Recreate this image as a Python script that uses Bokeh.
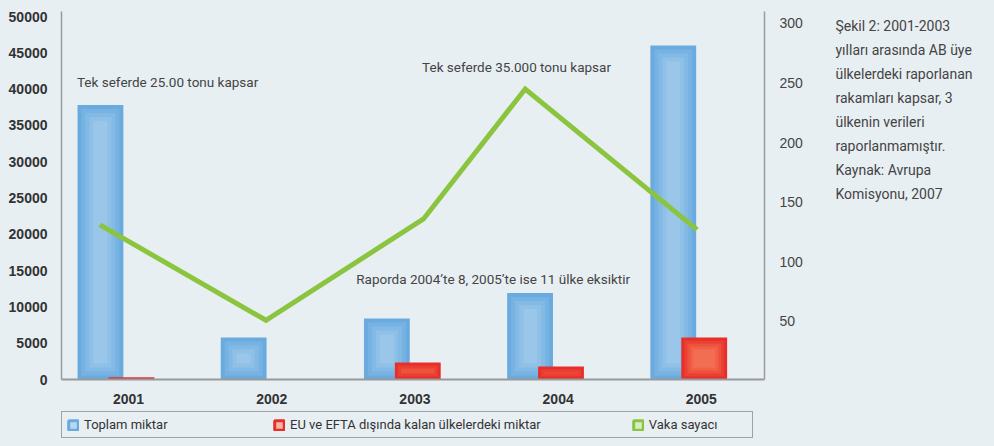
from bokeh.plotting import figure
from bokeh.layouts import row, column
from bokeh.models import (Range1d, LinearAxis, FixedTicker, Legend, LegendItem,
                          Label)
from bokeh.core.properties import value
from bokeh.embed import file_html
from bokeh.resources import INLINE

# ---------------- data ----------------
years = ["2001", "2002", "2003", "2004", "2005"]
toplam = [37800, 5800, 8400, 11900, 46000]          # Toplam miktar (left axis)
eu_efta = [300, 0, 2350, 1800, 5800]                # EU ve EFTA dışında ... (left axis)
vaka = [131, 51, 136, 245, 127]                     # Vaka sayacı (right axis)
vaka_pos = [-0.20, 0.96, 2.06, 2.77, 3.97]          # where the line's vertices sit (category units)
left_ticks = [0, 5000, 10000, 15000, 20000, 25000, 30000, 35000, 40000, 45000, 50000]
right_ticks = [50, 100, 150, 200, 250, 300]
series_names = ["Toplam miktar", "EU ve EFTA dışında kalan ülkelerdeki miktar", "Vaka sayacı"]
note_lines = ["Şekil 2: 2001-2003", "yılları arasında AB üye", "ülkelerdeki raporlanan",
              "rakamları kapsar, 3", "ülkenin verileri", "raporlanmamıştır.",
              "Kaynak: Avrupa", "Komisyonu, 2007"]
annotations = [("Tek seferde 25.00 tonu kapsar", -0.36, 41000),
               ("Tek seferde 35.000 tonu kapsar", 2.05, 43100),
               ("Raporda 2004’te 8, 2005’te ise 11 ülke eksiktir", 1.59, 13900)]

# ---------------- style ----------------
BG = "#E8EFF3"
NARROW = "Roboto"
NSIZE = "13.5px"
SANS = "Liberation Sans"
FRAME_W, FRAME_H = 703, 368
X0, X1 = -0.468, 4.441
YL0, YL1 = 0, 50690
YR0, YR1 = 1.3, 310
BAR_W = 0.32
BLUE_OFF, RED_OFF = -0.196, 0.02
blue_layers = ["#6AABDF", "#77B3E2", "#83BAE5", "#8FC0E7", "#9AC6E9"]
red_layers = ["#E62F2A", "#EB3F31", "#EE513C", "#F06247", "#F26E53"]
MAIN_W, MAIN_H = 830, 408
TOTAL_W, TOTAL_H = 994, 445

ppx = FRAME_W / (X1 - X0)
ppy = FRAME_H / (YL1 - YL0)

p = figure(frame_width=FRAME_W, frame_height=FRAME_H,
           min_border_left=61, min_border_right=MAIN_W - 61 - FRAME_W,
           min_border_top=11, min_border_bottom=MAIN_H - 11 - FRAME_H,
           x_range=Range1d(X0, X1), y_range=Range1d(YL0, YL1),
           output_backend="svg", toolbar_location=None)
p.extra_y_ranges = {"right": Range1d(YR0, YR1)}
p.background_fill_color = BG
p.border_fill_color = BG
p.outline_line_color = None
p.xgrid.visible = False
p.ygrid.visible = False


def layered_bars(xs, vals, colors, step_px):
    for i, c in enumerate(colors):
        inset = i * step_px
        w = BAR_W - 2 * inset / ppx
        xx, tops, bots = [], [], []
        for x, v in zip(xs, vals):
            h = v * ppy
            if i == 0 and h > 0.5 or h - 2 * inset > 1:
                xx.append(x)
                tops.append(v - inset / ppy)
                bots.append(inset / ppy)
        if xx and w > 0:
            p.vbar(x=xx, width=w, top=tops, bottom=bots, fill_color=c, line_color=None)


idx = list(range(len(years)))
layered_bars([i + BLUE_OFF for i in idx], toplam, blue_layers, 4)
layered_bars([i + RED_OFF for i in idx], eu_efta, red_layers, 3)

p.line(vaka_pos, vaka, y_range_name="right", line_color="#8BC53F", line_width=5,
       line_join="miter")

# axes
ax = p.yaxis[0]
ax.ticker = FixedTicker(ticks=left_ticks)
ax.major_tick_line_color = None
ax.minor_tick_line_color = None
ax.axis_line_color = "#9A9A9A"
ax.axis_line_width = 1.5
ax.major_label_text_font = SANS
ax.major_label_text_font_style = "bold"
ax.major_label_text_font_size = "14px"
ax.major_label_text_color = "#333333"
ax.major_label_standoff = 8

xa = p.xaxis[0]
xa.ticker = FixedTicker(ticks=idx)
xa.major_label_overrides = {i: y for i, y in zip(idx, years)}
xa.major_tick_line_color = None
xa.minor_tick_line_color = None
xa.axis_line_color = "#9A9A9A"
xa.axis_line_width = 2
xa.major_label_text_font = SANS
xa.major_label_text_font_style = "bold"
xa.major_label_text_font_size = "14px"
xa.major_label_text_color = "#333333"
xa.major_label_standoff = 8

ra = LinearAxis(y_range_name="right", ticker=FixedTicker(ticks=right_ticks))
ra.major_tick_line_color = None
ra.minor_tick_line_color = None
ra.axis_line_color = "#9A9A9A"
ra.axis_line_width = 1.5
ra.major_label_text_font = SANS
ra.major_label_text_font_size = "14px"
ra.major_label_text_color = "#444444"
ra.major_label_standoff = 9
p.add_layout(ra, "right")

# annotations inside the plot
for txt, x, y in annotations:
    p.add_layout(Label(x=x, y=y, text=txt, text_font=NARROW, text_font_size=NSIZE,
                       text_color="#444444", text_baseline="middle"))


def blank(w, h):
    f = figure(frame_width=w, frame_height=h, title=None, x_range=Range1d(0, w), y_range=Range1d(h, 0),
               x_axis_location=None, y_axis_location=None, min_border=0,
               output_backend="svg", toolbar_location=None)
    f.background_fill_color = BG
    f.border_fill_color = BG
    f.outline_line_color = None
    f.grid.visible = False
    return f


# ---------------- caption panel (right) ----------------
NOTE_W = TOTAL_W - MAIN_W
notes = blank(NOTE_W, MAIN_H)
notes.text(x=[5] * len(note_lines), y=[14 + 24 * i for i in range(len(note_lines))], text=note_lines,
           text_font=value(NARROW), text_font_size="14px", text_color="#444444",
           text_baseline="middle", text_align="left")

# ---------------- legend strip (bottom) ----------------
LEG_H = TOTAL_H - MAIN_H
lg = blank(TOTAL_W, LEG_H)
off = [-1000]  # proxies sit outside the visible strip; only their legend swatches show
r_blue = lg.rect(x=off, y=off, width=1, height=1, fill_color="#B9D7F0", line_color="#6AABDF", line_width=3)
r_red = lg.rect(x=off, y=off, width=1, height=1, fill_color="#F8B3A2", line_color="#E62F2A", line_width=3)
r_green = lg.rect(x=off, y=off, width=1, height=1, fill_color="#D9ECC4", line_color="#8BC53F", line_width=3)
legend = Legend(items=[LegendItem(label=series_names[0], renderers=[r_blue]),
                       LegendItem(label=series_names[1], renderers=[r_red]),
                       LegendItem(label=series_names[2], renderers=[r_green])],
                orientation="horizontal", location=(61, 7), spacing=91, padding=5,
                glyph_width=12, glyph_height=12, label_standoff=5, label_width=98,
                label_height=13, margin=0,
                label_text_font=NARROW, label_text_font_size="13px", label_text_color="#333333",
                border_line_color="#555555", border_line_width=1.5,
                background_fill_color=BG, background_fill_alpha=1)
lg.add_layout(legend)

layout = column(row(p, notes, spacing=0, styles={"background-color": BG}), lg,
                spacing=0, styles={"background-color": BG})
html = file_html(layout, INLINE)
html = html.replace("</head>", "<style>html, body { background-color: %s; overflow: hidden; }</style></head>" % BG, 1)
open("out.html", "w").write(html)
